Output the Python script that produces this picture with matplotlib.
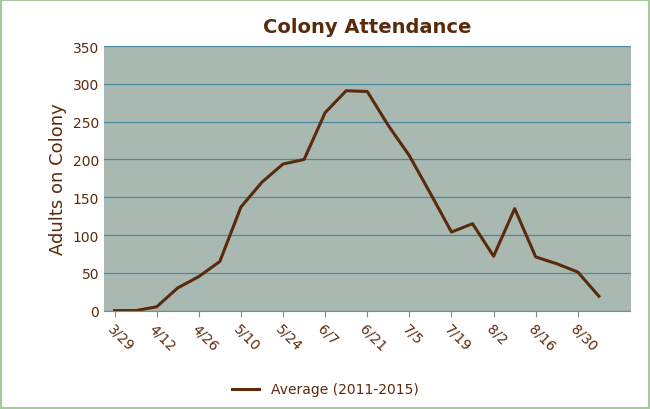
import matplotlib
matplotlib.use("Agg")
import matplotlib.pyplot as plt

weeks = ["3/29","4/5","4/12","4/19","4/26","5/3","5/10","5/17","5/24","5/31","6/7","6/14",
         "6/21","6/28","7/5","7/12","7/19","7/26","8/2","8/9","8/16","8/23","8/30","9/6"]
values = [0,0,5,30,45,65,137,170,194,200,262,291,290,245,205,155,104,115,72,135,71,62,51,19]
tick_labels = weeks[::2]

brown = "#5a2a0c"
fig = plt.figure(figsize=(6.5,4.1), dpi=100)
fig.patch.set_facecolor("white")
fig.add_artist(plt.Rectangle((0.002,0.003),0.996,0.994, transform=fig.transFigure,
                             fill=False, edgecolor="#a8c8a0", lw=1.5))
ax = fig.add_axes([0.16, 0.24, 0.81, 0.645])
ax.set_facecolor("#a9b9b2")
x = list(range(len(values)))
ax.plot(x, values, color=brown, lw=2.2, label="Average (2011-2015)")
ax.set_xlim(-0.5, 24.5)
ax.set_ylim(0, 350)
ax.set_yticks(range(0, 351, 50))
ax.yaxis.grid(True, color="#4a8aa0", lw=0.9)
ax.set_axisbelow(True)
ax.set_xticks(x[::2])
ax.set_xticklabels(tick_labels, rotation=-45, ha="left", rotation_mode="anchor")
for s in ["top","right","left"]:
    ax.spines[s].set_visible(False)
ax.spines["bottom"].set_color("#888888")
ax.tick_params(axis="both", colors=brown, labelsize=10, length=0)
ax.tick_params(axis="x", length=4, color="#888888")
ax.set_ylabel("Adults on Colony", color=brown, fontsize=13)
ax.set_title("Colony Attendance", color=brown, fontsize=14, fontweight="bold", pad=10)
fig.legend(loc="lower center", bbox_to_anchor=(0.5, 0.0), frameon=False,
           labelcolor=brown, fontsize=10)
fig.savefig("out.png", dpi=100)
